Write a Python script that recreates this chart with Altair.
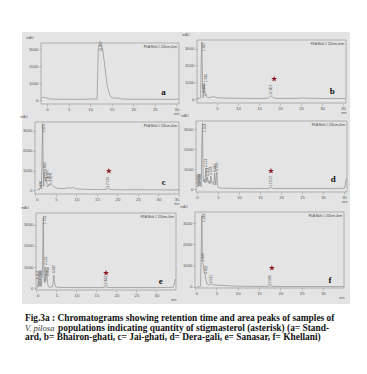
import altair as alt
import pandas as pd

# ---------------- data ----------------
XT = [0, 5, 10, 15, 20, 25, 30, 35]
YT = [0, 1000, 2000, 3000]

# panel a (standard)
a_t = [-1.4, -1.0, -0.5, 0.0, 0.5, 1.5, 3.0, 5.0, 7.0, 9.0, 10.5, 11.3, 11.6, 11.75, 11.9, 12.1, 12.3,
       12.5, 12.7, 12.9, 13.2, 13.5, 14.0, 14.6, 15.2, 15.8, 16.4, 17.0, 18.0, 20.0, 23.0, 26.0, 30.5]
a_m = [80, 160, 140, 120, 70, 50, 45, 40, 40, 45, 60, 60, 30, 1600, 3050, 3250, 3180,
       3240, 3150, 2950, 2400, 1750, 800, 250, 120, 110, 120, 70, 50, 45, 45, 40, 40]
a_lab_t = [12.6]
a_lab_m = [2850]
a_lab_s = ["12.247"]

# panel b (Bhairon-ghati)
b_t = [0.3, 0.8, 1.1, 1.25, 1.4, 1.55, 1.7, 1.85, 1.95, 2.05, 2.2, 2.35, 2.5, 2.8, 3.2, 3.8, 4.2, 4.6, 5.2, 6,
       8, 10, 12, 14, 16, 17.0, 17.5, 17.8, 18.1, 18.5, 19.2, 21, 24, 25.5, 27, 30, 33, 35.6]
b_m = [40, 40, 60, 2400, 3400, 1200, 80, 500, 950, 450, 200, 320, 150, 90, 80, 110, 150, 100, 70, 60,
       50, 40, 35, 30, 30, 40, 120, 200, 140, 60, 35, 30, 35, 60, 40, 30, 30, 30]
b_lab_t = [1.9, 2.4, 1.85, 17.8]
b_lab_m = [2850, 1000, 380, 250]
b_lab_s = ["1.427", "1.945", "2.362", "17.807"]
b_star = (18.6, 1190)

# panel c (Jai-ghati)
c_t = [0.4, 0.9, 1.15, 1.3, 1.45, 1.6, 1.75, 1.9, 2.0, 2.1, 2.25, 2.45, 2.6, 2.8, 3.0, 3.3, 3.5, 3.7, 3.9, 4.1,
       4.4, 4.8, 5.3, 6, 7, 8.0, 8.5, 9.0, 10, 12, 14, 16, 17.2, 17.7, 18.2, 19, 22, 25, 28, 32, 35]
c_m = [30, 40, 120, 260, 150, 1800, 3350, 900, 200, 980, 600, 450, 690, 300, 180, 320, 250, 380, 300, 250,
       200, 150, 110, 100, 90, 140, 110, 150, 80, 60, 50, 45, 60, 150, 50, 40, 35, 40, 35, 30, 30]
c_lab_t = [1.25, 2.0, 2.2, 2.8, 3.4, 3.9, 17.7]
c_lab_m = [60, 2900, 1000, 600, 450, 450, 180]
c_lab_s = ["1.290", "1.675", "2.083", "2.682", "3.419", "3.874", "17.716"]
c_star = (17.9, 975)

# panel d (Dera-gali)
d_t = [0.0, 0.2, 0.35, 0.5, 0.65, 0.8, 1.0, 1.15, 1.3, 1.45, 1.6, 1.75, 1.9, 2.1, 2.3, 2.5, 2.7, 2.9, 3.1, 3.3,
       3.55, 3.8, 4.0, 4.2, 4.45, 4.7, 4.9, 5.2, 6, 8, 10, 13, 16, 17.2, 17.6, 18.0, 19, 22, 26, 30,
       34, 35.1, 35.3, 35.5, 35.7]
d_m = [100, 250, 120, 320, 150, 300, 120, 2200, 3300, 600, 350, 500, 300, 1050, 350, 600, 300, 400, 250, 650,
       300, 350, 200, 800, 200, 850, 150, 60, 40, 35, 30, 30, 25, 30, 100, 30, 25, 25, 25, 25,
       30, 40, 200, 500, 480]
d_lab_t = [0.2, 0.5, 0.8, 1.8, 2.15, 2.55, 3.35, 4.25, 4.75, 17.6]
d_lab_m = [280, 350, 330, 2850, 1100, 650, 700, 850, 900, 150]
d_lab_s = ["0.217", "0.512", "0.820", "1.314", "2.172", "2.564", "3.318", "4.241", "4.796", "17.617"]
d_star = (17.6, 900)

# panel e (Sanasar)
e_t = [0.1, 0.3, 0.45, 0.6, 0.75, 0.9, 1.05, 1.2, 1.35, 1.5, 1.7, 1.85, 2.0, 2.15, 2.3, 2.45, 2.6, 2.8, 3.0, 3.3,
       3.7, 4.0, 4.2, 4.35, 4.5, 4.8, 5.5, 7, 10, 13, 16, 17.0, 17.4, 17.8, 19, 22, 26, 30, 34.2, 34.5,
       34.7, 34.85]
e_m = [0, 20, 400, 80, 350, 60, 420, 80, 450, 900, 3380, 700, 250, 1000, 300, 500, 850, 200, 60, 40,
       40, 60, 300, 620, 250, 50, 30, 25, 20, 20, 20, 25, 70, 25, 20, 20, 20, 20, 30, 200,
       420, 400]
e_lab_t = [0.45, 0.8, 1.1, 2.05, 2.45, 3.0, 4.35, 17.4]
e_lab_m = [430, 380, 450, 3050, 1100, 600, 700, 90]
e_lab_s = ["0.452", "0.813", "1.208", "1.712", "2.153", "2.460", "4.347", "17.443"]
e_star = (17.4, 714)

# panel f (Khellani)
f_t = [0.5, 1.0, 1.3, 1.45, 1.6, 1.72, 1.85, 2.0, 2.15, 2.35, 2.55, 2.8, 3.1, 3.5, 3.9, 4.3, 5, 6, 7, 8,
       10, 13, 16, 17.2, 17.6, 18.0, 19, 22, 26, 30, 34.8]
f_m = [10, 15, 30, 1500, 3350, 1500, 1150, 950, 700, 620, 350, 150, 100, 110, 150, 110, 90, 80, 70, 55,
       40, 30, 25, 30, 70, 30, 25, 20, 20, 20, 20]
f_lab_t = [2.0, 1.85, 2.55, 3.8, 17.6]
f_lab_m = [3050, 1200, 620, 180, 80]
f_lab_s = ["1.548", "1.926", "2.452", "3.521", "17.586"]
f_star = (18.0, 890)

LETTERS = ["a", "b", "c", "d", "e", "f"]
LETTER_T = [27.0, 32.4, 31.3, 32.4, 31.1, 31.6]
LETTER_M = [470, 476, 425, 500, 333, 330]

# axis domains of each panel (minutes, mAU)
X_DOM = [[-1.4, 30.6], [0.24, 35.7], [-0.12, 35.0], [-0.24, 35.7], [-0.12, 34.9], [0.0, 34.9]]
Y_DOM = [[-235, 3353], [-238, 3512], [-175, 3425], [-150, 3400], [-95, 3571], [-47, 3521]]

CAP1 = "Fig.3a : Chromatograms showing retention time and area peaks of samples of"
CAP2A = "V. pilosa"
CAP2B = "populations indicating quantity of stigmasterol (asterisk) (a= Stand-"
CAP3 = "ard, b= Bhairon-ghati, c= Jai-ghati, d= Dera-gali, e= Sanasar, f= Khellani)"
PDA = "PDA Multi 1 205nm,4nm"

# ---------------- layout (pixels in the chart) ----------------
W, H = 351, 354
# plot frame of each panel: left, right, top, bottom
FRAMES = [(33, 171, 35, 96), (189, 338, 32, 95), (27, 171, 114, 186),
          (188, 339, 113, 184), (28, 168, 205, 282), (187, 336, 204, 280)]
STAR_PATH = ("M0,-1L0.2245,-0.309L0.9511,-0.309L0.3633,0.118L0.5878,0.809L0,0.382"
             "L-0.5878,0.809L-0.3633,0.118L-0.9511,-0.309L-0.2245,-0.309Z")

ONE = alt.Data(values=[{"k": 0}])
LINE_C = "#8c8c8c"
TXT_C = "#555555"
SERIES = [
    (a_t, a_m, a_lab_t, a_lab_m, a_lab_s, None),
    (b_t, b_m, b_lab_t, b_lab_m, b_lab_s, b_star),
    (c_t, c_m, c_lab_t, c_lab_m, c_lab_s, c_star),
    (d_t, d_m, d_lab_t, d_lab_m, d_lab_s, d_star),
    (e_t, e_m, e_lab_t, e_lab_m, e_lab_s, e_star),
    (f_t, f_m, f_lab_t, f_lab_m, f_lab_s, f_star),
]


def rect(x1, x2, y1, y2, **kw):
    return alt.Chart(ONE).mark_rect(**kw).encode(
        x=alt.value(x1), x2=alt.value(x2), y=alt.value(y1), y2=alt.value(y2))


def note(txt, x, y, **kw):
    return alt.Chart(ONE).mark_text(text=txt, **kw).encode(x=alt.value(x), y=alt.value(y))


AX_KW = dict(title=None, domain=False, grid=False, labelFontSize=4.3, labelColor=TXT_C,
             labelFont="Liberation Sans", tickColor="#888888", tickSize=2, tickWidth=0.5,
             labelPadding=1, zindex=2, labelOverlap=False, format="d")

layers = [rect(14, 342, 24, 296, color="#e4e4e4")]

for i, (t, m, lt, lm, ls, star) in enumerate(SERIES):
    L, R, T, B = FRAMES[i]
    xs = alt.Scale(domain=X_DOM[i], range=[L, R], nice=False, zero=False)
    ys = alt.Scale(domain=Y_DOM[i], range=[B, T], nice=False, zero=False)
    xv = [v for v in XT if X_DOM[i][0] <= v <= X_DOM[i][1]]
    X = alt.X("t:Q", scale=xs, axis=alt.Axis(values=xv, orient="bottom", offset=B - H, **AX_KW))
    Y = alt.Y("m:Q", scale=ys, axis=alt.Axis(values=YT, orient="left", offset=-L, **AX_KW))
    Xs = alt.X("t:Q", scale=xs, axis=None)
    Ys = alt.Y("m:Q", scale=ys, axis=None)
    layers.append(rect(L, R, T, B, filled=False, stroke="#8a8a8a", strokeWidth=0.6))
    layers.append(alt.Chart(pd.DataFrame({"t": t, "m": m})).mark_line(
        color=LINE_C, strokeWidth=0.7).encode(x=X, y=Y))
    layers.append(alt.Chart(pd.DataFrame({"t": lt, "m": lm, "s": ls})).mark_text(
        angle=270, align="left", baseline="middle", fontSize=3.3, color=TXT_C,
        font="Liberation Sans").encode(x=Xs, y=Ys, text="s:N"))
    if star is not None:
        layers.append(alt.Chart(pd.DataFrame({"t": [star[0]], "m": [star[1]]})).mark_point(
            shape=STAR_PATH, filled=True, size=40, color="#8b1a22", opacity=1).encode(x=Xs, y=Ys))
    layers.append(alt.Chart(pd.DataFrame({"t": [LETTER_T[i]], "m": [LETTER_M[i]], "s": [LETTERS[i]]})).mark_text(
        font="Liberation Serif", fontWeight="bold", fontSize=9, color="#111111",
        align="center", baseline="middle").encode(x=Xs, y=Ys, text="s:N"))
    layers.append(note("mAU", L - 11, T - 5, fontSize=3.3, color=TXT_C, font="Liberation Sans"))
    layers.append(note("min", R - 2, B + 10, fontSize=3.3, color=TXT_C, font="Liberation Sans"))
    layers.append(note(PDA, R - 2, T + 3.5, fontSize=3.1, color="#444444", align="right",
                       font="Liberation Sans"))

CAP_KW = dict(font="Liberation Serif", align="left", baseline="middle")
layers += [
    note(CAP1, 17, 310, fontWeight="bold", fontSize=9.4, color="#111111", **CAP_KW),
    note(CAP2A, 17, 319.5, fontStyle="italic", fontSize=8.6, color="#333333", **CAP_KW),
    note(CAP2B, 50, 319.5, fontWeight="bold", fontSize=9.4, color="#111111", **CAP_KW),
    note(CAP3, 17, 329, fontWeight="bold", fontSize=9.4, color="#111111", **CAP_KW),
]

chart = alt.layer(*layers).resolve_scale(
    x="independent", y="independent"
).properties(
    width=W, height=H, padding=0, background="white",
    autosize=alt.AutoSizeParams(type="none"),
).configure_view(
    strokeWidth=0
)

chart.save("out.html", embed_options={"renderer": "svg", "actions": False})
